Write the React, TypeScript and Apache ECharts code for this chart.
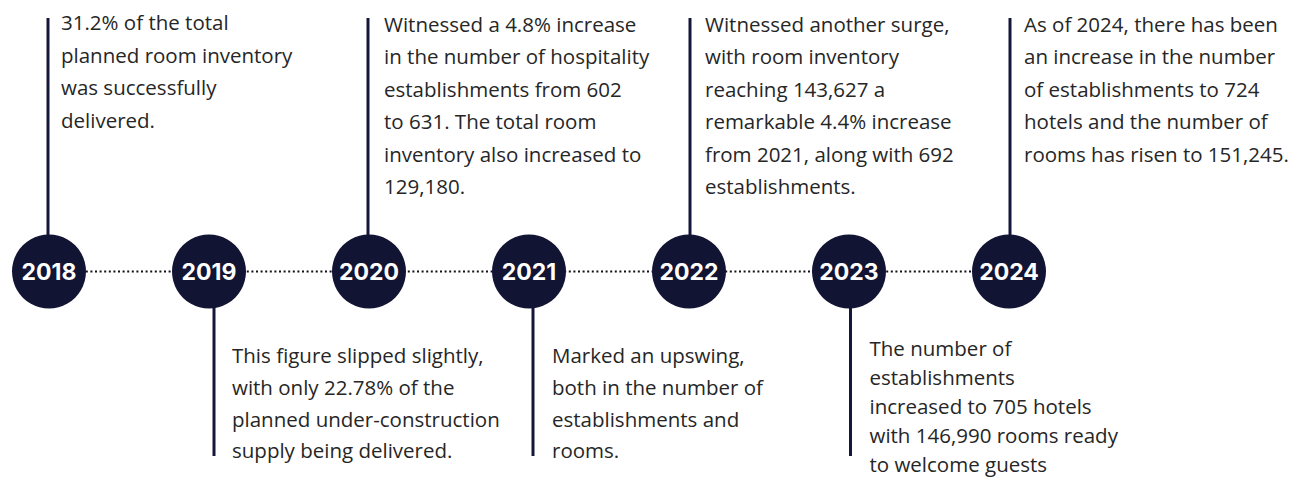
import React, { useEffect, useRef } from "react";
import * as echarts from "echarts";

const years = ["2018", "2019", "2020", "2021", "2022", "2023", "2024"];

const descriptions: string[][] = [
  ["31.2% of the total", "planned room inventory", "was successfully", "delivered."],
  ["This figure slipped slightly,", "with only 22.78% of the", "planned under-construction", "supply being delivered."],
  ["Witnessed a 4.8% increase", "in the number of hospitality", "establishments from 602", "to 631. The total room", "inventory also increased to", "129,180."],
  ["Marked an upswing,", "both in the number of", "establishments and", "rooms."],
  ["Witnessed another surge,", "with room inventory", "reaching 143,627 a", "remarkable 4.4% increase", "from 2021, along with 692", "establishments."],
  ["The number of", "establishments", "increased to 705 hotels", "with 146,990 rooms ready", "to welcome guests"],
  ["As of 2024, there has been", "an increase in the number", "of establishments to 724", "hotels and the number of", "rooms has risen to 151,245."],
];

const sides = ["up", "down", "up", "down", "up", "down", "up"];

// layout constants (pixels)
const NAVY = "#121433";
const RADIUS = 37;
const STEM_OFFSET = [-1, 5, -1, 4, 1, 1.5, 1];
const TEXT_GAP = [13, 18, 16, 19, 15, 19, 14];
const TOP_TEXT_MID = [22.5, 0, 24, 0, 24, 0, 24];
const BOTTOM_TEXT_MID = [0, 355, 0, 355, 0, 348, 0];
const LINE_H_UP = 32.4;
const LINE_H_DOWN = [0, 31.8, 0, 31.8, 0, 29, 0];
const STEM_TOP = 18;
const STEM_BOTTOM = 456;

export default function App() {
  const ref = useRef<HTMLDivElement>(null);
  useEffect(() => {
    document.body.style.margin = "0";
    const chart = echarts.init(ref.current!, null, { renderer: "svg" });
    const option: any = {
      animation: false,
      grid: { left: 49, right: 290, top: 72, bottom: 8 },
      xAxis: {
        type: "category",
        data: years,
        boundaryGap: false,
        show: false,
      },
      yAxis: { type: "value", min: -1, max: 1, show: false },
      series: [
        {
          type: "line",
          data: years.map(() => 0),
          symbol: "none",
          lineStyle: { color: "#111111", width: 2.2, type: [2, 2.6] },
          z: 1,
        },
        {
          type: "custom",
          data: years.map((_, i) => [i, 0]),
          z: 2,
          renderItem: (params: any, api: any) => {
            const i = params.dataIndex;
            const c = api.coord([api.value(0), 0]);
            const sx = c[0] + STEM_OFFSET[i];
            const up = sides[i] === "up";
            const lines = descriptions[i];
            const lh = up ? LINE_H_UP : LINE_H_DOWN[i];
            const mid = up ? TOP_TEXT_MID[i] : BOTTOM_TEXT_MID[i];
            return {
              type: "group",
              children: [
                {
                  type: "line",
                  shape: up
                    ? { x1: sx, y1: STEM_TOP, x2: sx, y2: c[1] - RADIUS + 2 }
                    : { x1: sx, y1: c[1] + RADIUS - 2, x2: sx, y2: STEM_BOTTOM },
                  style: { stroke: "#14173a", lineWidth: 3 },
                },
                {
                  type: "text",
                  x: sx + TEXT_GAP[i],
                  y: mid - lh / 2,
                  style: {
                    text: lines.join("\n"),
                    fill: "#262626",
                    fontFamily: "'Open Sans', sans-serif",
                    fontSize: 20.5,
                    lineHeight: lh,
                    verticalAlign: "top",
                    align: "left",
                  },
                },
              ],
            };
          },
        },
        {
          type: "scatter",
          data: years.map(() => 0),
          symbolSize: RADIUS * 2,
          itemStyle: { color: NAVY, opacity: 1 },
          z: 3,
          label: {
            show: true,
            position: "inside",
            formatter: (p: any) => years[p.dataIndex],
            color: "#ffffff",
            fontFamily: "Inter, 'Liberation Sans', sans-serif",
            fontWeight: 700,
            fontSize: 23,
          },
        },
      ],
    };
    chart.setOption(option);
    return () => chart.dispose();
  }, []);
  return <div ref={ref} style={{ width: 1299, height: 479 }} />;
}
